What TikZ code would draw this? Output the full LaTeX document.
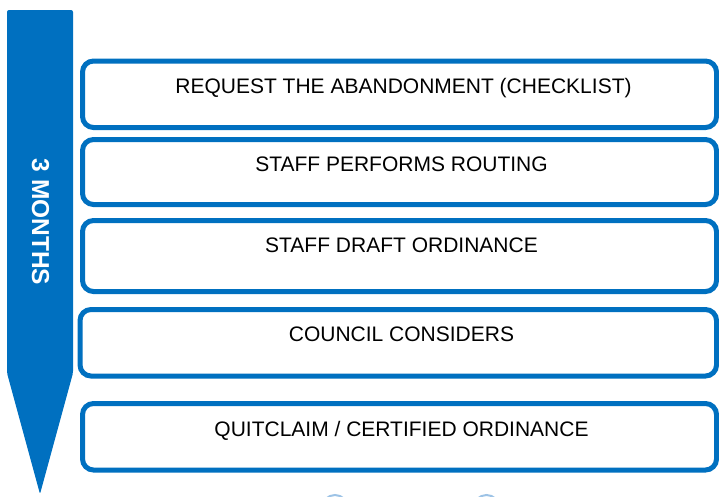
\documentclass[tikz,border=0pt]{standalone}
\usepackage{fontspec}
\setmainfont{Liberation Sans}
\definecolor{mblue}{HTML}{0070C0}
\definecolor{faint}{HTML}{9DC3E6}
\begin{document}
\begin{tikzpicture}[x=1pt,y=-1pt,
  stepbox/.style={draw=mblue, line width=5pt, rounded corners=11pt, fill=white},
  steplabel/.style={anchor=base, inner sep=0pt, font=\fontsize{21}{25}\selectfont, text=black}]
\useasboundingbox (0,0) rectangle (719,496);
\clip (0,0) rectangle (719,496);
% timeline arrow
\fill[mblue, rounded corners=2pt] (7,10) -- (73,10) -- (73,373) -- (40,494) -- (7,373) -- cycle;
\node[rotate=-90, text=white, inner sep=0pt, font=\fontsize{24.5}{29}\selectfont\bfseries] (months) at (40.5,222) {3 MONTHS};
% boxes
\draw[stepbox] (82.5,61) rectangle (716.5,127.5);
\draw[stepbox] (82.5,139.5) rectangle (716.5,204.5);
\draw[stepbox] (82.5,220.5) rectangle (716.5,291.5);
\draw[stepbox] (80,309.5) rectangle (716.5,376);
\draw[stepbox] (82.5,403.5) rectangle (716.5,470);
% labels
\node[steplabel] (l1) at (403.5,93.3) {REQUEST THE ABANDONMENT (CHECKLIST)};
\node[steplabel] (l2) at (401.5,171.5) {STAFF PERFORMS ROUTING};
\node[steplabel] (l3) at (401.5,252.5) {STAFF DRAFT ORDINANCE};
\node[steplabel] (l4) at (401.5,341.7) {COUNCIL CONSIDERS};
\node[steplabel] (l5) at (401.5,436.3) {QUITCLAIM / CERTIFIED ORDINANCE};
% faint partial shapes at the bottom edge
\draw[faint, line width=2pt] (335,508) circle (13);
\draw[faint, line width=2pt] (486.5,508) circle (13);
\end{tikzpicture}
\end{document}
